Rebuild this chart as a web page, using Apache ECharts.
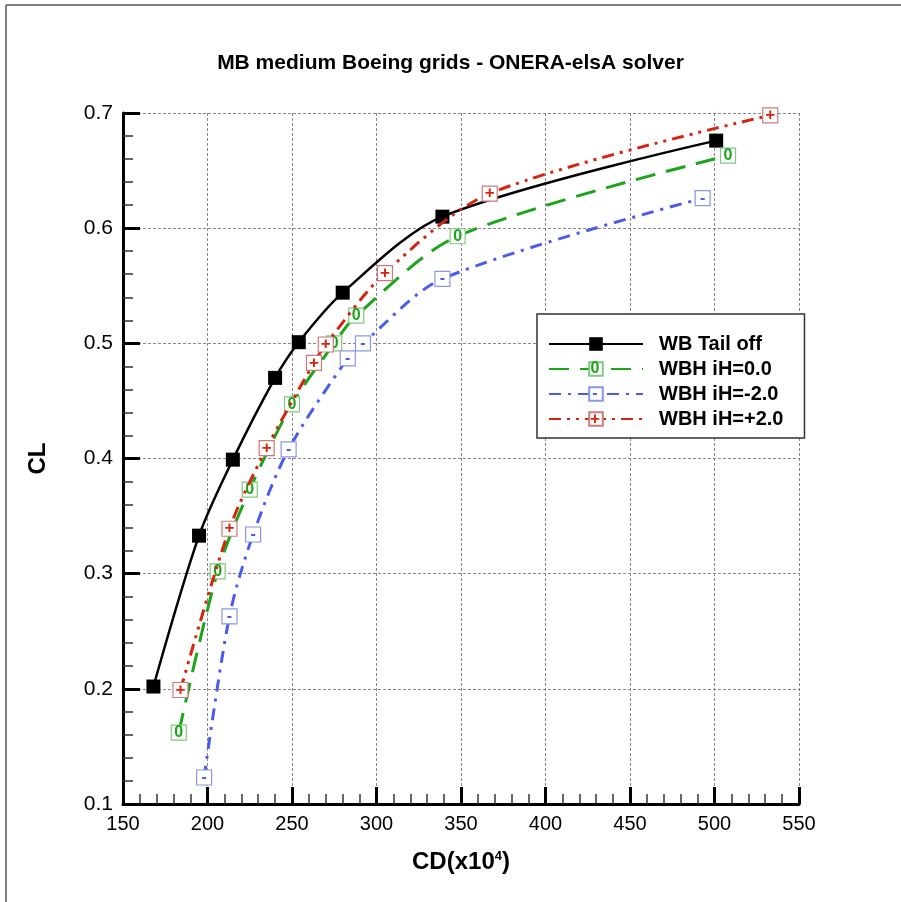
<!DOCTYPE html>
<html>
<head>
<meta charset="utf-8">
<script src="https://cdn.jsdelivr.net/npm/echarts@6/dist/echarts.min.js"></script>
<style>
  html, body { margin: 0; padding: 0; background: #fff; }
  #chart { width: 901px; height: 902px; }
</style>
</head>
<body>
<div id="chart"></div>
<script>
// values
const seriesNames = ['WB Tail off', 'WBH iH=0.0', 'WBH iH=-2.0', 'WBH iH=+2.0'];

const cdTailOff = [168, 195, 215, 240, 254, 280, 339, 501];
const clTailOff = [0.202, 0.333, 0.399, 0.470, 0.501, 0.544, 0.610, 0.676];

const cdIh0 = [183, 206, 225, 250, 275, 288, 348, 508];
const clIh0 = [0.162, 0.302, 0.373, 0.447, 0.500, 0.524, 0.593, 0.663];

const cdIhM2 = [198, 213, 227, 248, 283, 292, 339, 493];
const clIhM2 = [0.123, 0.263, 0.334, 0.408, 0.487, 0.500, 0.556, 0.626];

const cdIhP2 = [184, 213, 235, 263, 270, 305, 367, 533];
const clIhP2 = [0.199, 0.339, 0.409, 0.483, 0.499, 0.561, 0.630, 0.698];

const markerText = ['', '0', '-', '+'];
const lineColors = ['#000000', '#1aa51a', '#4b5bef', '#d9230f'];
const boxColors = ['#000000', '#7fc87f', '#8a96e6', '#cc7a7a'];

const FONT = '"Liberation Sans", Arial, Helvetica, sans-serif';

const zip = (xs, ys) => xs.map((x, i) => [x, ys[i]]);

const chart = echarts.init(document.getElementById('chart'));

const boxSeries = (idx, cd, cl, dash, labelSize) => ({
  name: seriesNames[idx],
  type: 'line',
  data: zip(cd, cl),
  smooth: 0.3,
  symbol: 'rect',
  symbolSize: [15, 15],
  showAllSymbol: true,
  itemStyle: {
    color: '#FFFFFF',
    borderColor: boxColors[idx],
    borderWidth: 1.2,
  },
  lineStyle: {
    color: lineColors[idx],
    width: 3,
    type: dash,
  },
  label: {
    show: true,
    position: 'inside',
    formatter: markerText[idx],
    color: lineColors[idx],
    fontWeight: 'bold',
    fontSize: labelSize,
    fontFamily: FONT,
    padding: [2, 0, 0, 0],
  },
  emphasis: { disabled: true },
  z: 2 + idx,
});

// legend layout, also used to place the small marker texts
const legendLeft = 537;
const legendTop = 314;
const legendPad = [20, 21, 9, 11];
const legendItemW = 94;
const legendRowH = 25;
const legendFirstRow = 343;

const option = {
  animation: false,
  backgroundColor: '#FFFFFF',
  title: {
    text: 'MB medium Boeing grids - ONERA-elsA solver',
    left: 'center',
    top: 48,
    textStyle: {
      fontFamily: FONT,
      fontSize: 21,
      fontWeight: 'bold',
      color: '#000',
    },
  },
  grid: {
    left: 123,
    right: 102,
    top: 113,
    bottom: 98,
  },
  legend: {
    orient: 'vertical',
    left: legendLeft,
    top: legendTop,
    padding: legendPad,
    itemWidth: legendItemW,
    itemHeight: 17,
    itemGap: 5,
    backgroundColor: '#FFFFFF',
    borderColor: '#333',
    borderWidth: 1.5,
    borderRadius: 0,
    selectedMode: false,
    data: seriesNames,
    textStyle: {
      fontFamily: FONT,
      fontSize: 20,
      fontWeight: 'bold',
      color: '#000',
      lineHeight: 20,
      padding: [0, 0, 0, 11],
    },
  },
  xAxis: {
    type: 'value',
    min: 150,
    max: 550,
    interval: 50,
    name: 'CD(x10{s|4})',
    nameLocation: 'middle',
    nameGap: 46,
    nameTextStyle: {
      fontFamily: FONT,
      fontSize: 24,
      fontWeight: 'bold',
      color: '#000',
      rich: {
        s: {
          fontFamily: FONT,
          fontSize: 13,
          fontWeight: 'bold',
          color: '#000',
          verticalAlign: 'top',
          lineHeight: 24,
        },
      },
    },
    axisLine: { lineStyle: { color: '#000', width: 3 } },
    axisTick: { inside: true, length: 17, lineStyle: { color: '#000', width: 3 } },
    minorTick: { show: true, splitNumber: 5, length: 10, lineStyle: { color: '#333', width: 1.5 } },
    axisLabel: { fontFamily: FONT, fontSize: 20, color: '#000', margin: 10 },
    splitLine: { show: true, lineStyle: { color: '#888', width: 1, type: [3, 2] } },
  },
  yAxis: {
    type: 'value',
    min: 0.1,
    max: 0.7,
    interval: 0.1,
    name: 'CL',
    nameLocation: 'middle',
    nameGap: 73,
    nameRotate: 90,
    nameTextStyle: {
      fontFamily: FONT,
      fontSize: 24,
      fontWeight: 'bold',
      color: '#000',
    },
    axisLine: { show: true, lineStyle: { color: '#000', width: 3 } },
    axisTick: { show: true, inside: true, length: 17, lineStyle: { color: '#000', width: 3 } },
    minorTick: { show: true, splitNumber: 5, length: 10, lineStyle: { color: '#333', width: 1.5 } },
    axisLabel: {
      fontFamily: FONT,
      fontSize: 21,
      color: '#000',
      margin: 10,
      formatter: (v) => v.toFixed(1),
    },
    splitLine: { show: true, lineStyle: { color: '#888', width: 1, type: [3, 2] } },
  },
  series: [
    {
      name: seriesNames[0],
      type: 'line',
      data: zip(cdTailOff, clTailOff),
      smooth: 0.3,
      symbol: 'rect',
      symbolSize: 14,
      itemStyle: { color: '#000' },
      lineStyle: { color: '#000', width: 2.5 },
      emphasis: { disabled: true },
      z: 2,
    },
    boxSeries(1, cdIh0, clIh0, [20, 11], 16),
    boxSeries(2, cdIhM2, clIhM2, [12, 7, 3, 7], 16),
    boxSeries(3, cdIhP2, clIhP2, [12, 6, 3, 6, 3, 6], 17),
  ],
  graphic: [
    // page frame, top and left edge
    { type: 'line', shape: { x1: 6, y1: 5, x2: 901, y2: 5 }, style: { stroke: '#555', lineWidth: 1.5 }, silent: true },
    { type: 'line', shape: { x1: 6, y1: 5, x2: 6, y2: 902 }, style: { stroke: '#555', lineWidth: 1.5 }, silent: true },
  ].concat(
    [1, 2, 3].map((i) => ({
      type: 'text',
      x: legendLeft + legendPad[3] + legendItemW / 2,
      y: legendFirstRow + i * legendRowH + 1,
      z: 100,
      style: {
        text: markerText[i],
        align: 'center',
        verticalAlign: 'middle',
        fontFamily: FONT,
        fontSize: i === 3 ? 17 : 16,
        fontWeight: 'bold',
        fill: lineColors[i],
      },
      silent: true,
    }))
  ),
};

chart.setOption(option);
</script>
</body>
</html>
